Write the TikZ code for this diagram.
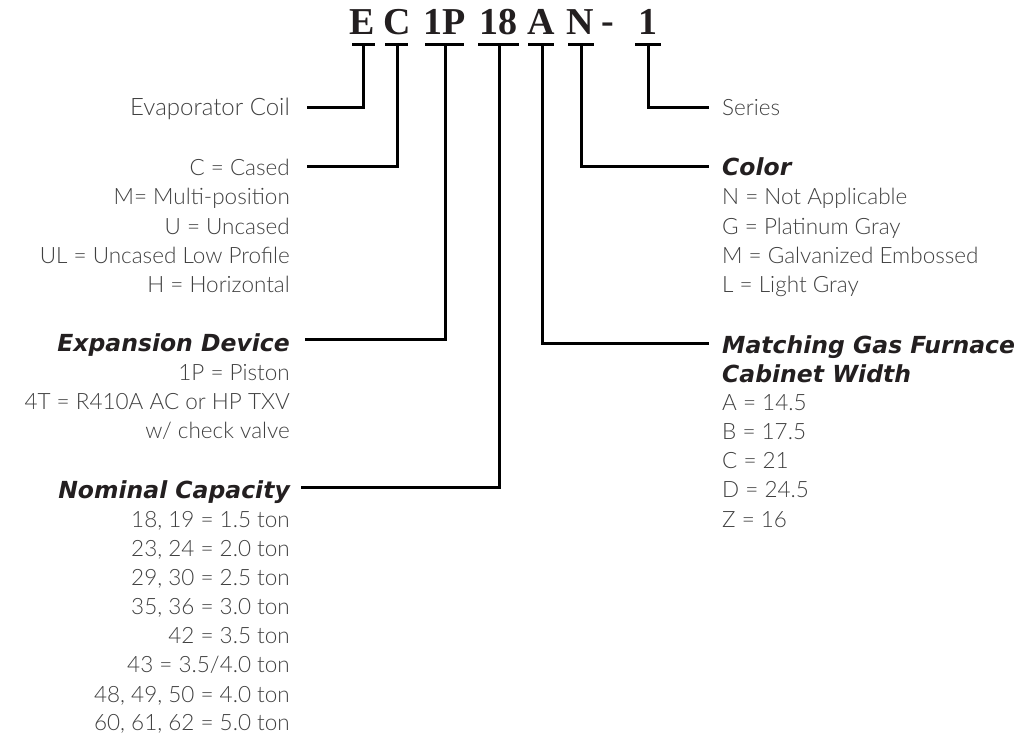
\documentclass[tikz,border=0pt]{standalone}
\usepackage{fontspec}
\setmainfont{Lato}[UprightFont=* Light]
\newfontfamily\codefont{Liberation Serif}
\newfontfamily\headfont{DejaVu Sans}
\definecolor{txt}{HTML}{404040}
\definecolor{hd}{HTML}{231F20}
\begin{document}
\begin{tikzpicture}[x=1pt,y=-1pt,
  conn/.style={line width=3pt,line cap=rect,black},
  bar/.style={line width=3pt,black},
  code/.style={anchor=base,inner sep=0pt,font=\codefont\bfseries\fontsize{38}{38}\selectfont,text=hd},
  lt/.style={anchor=base east,inner sep=0pt,text=txt,font=\fontsize{22.5}{22.5}\selectfont},
  rt/.style={anchor=base west,inner sep=0pt,text=txt,font=\fontsize{22.5}{22.5}\selectfont},
  lh/.style={anchor=base east,inner sep=0pt,text=hd,font=\headfont\bfseries\itshape\fontsize{23.5}{23.5}\selectfont},
  rh/.style={anchor=base west,inner sep=0pt,text=hd,font=\headfont\bfseries\itshape\fontsize{23.5}{23.5}\selectfont}]
\useasboundingbox (0,0) rectangle (1028,739);
% code letters
\node[code] (kE) at (362,34) {E};
\node[code] (kC) at (397,34) {C};
\node[code] (kP) at (445,34) {1P};
\node[code] (kN1) at (498,34) {18};
\node[code] (kA) at (541,34) {A};
\node[code] (kN) at (580,34) {N};
\node[code] (kD) at (608,33) {-};
\node[code] (kS) at (648,34) {1};
% bars
\coordinate (bE) at (363,44); \draw[bar] (352,44) -- (375,44);
\coordinate (bC) at (397,44); \draw[bar] (385,44) -- (408,44);
\coordinate (bP) at (445,44); \draw[bar] (425,44) -- (464,44);
\coordinate (b18) at (499,44); \draw[bar] (478,44) -- (519,44);
\coordinate (bA) at (542,44); \draw[bar] (528,44) -- (554,44);
\coordinate (bN) at (581,44); \draw[bar] (568,44) -- (594,44);
\coordinate (bS) at (648,44); \draw[bar] (635,44) -- (661,44);
% left labels
\node[lt,font=\fontsize{24}{24}\selectfont] (evap) at (290,115) {Evaporator Coil};
\node[lt] (c1) at (290,175) {C = Cased};
\node[lt] (c2) at (290,204) {M= Multi-position};
\node[lt] (c3) at (290,234) {U = Uncased};
\node[lt] (c4) at (290,263) {UL = Uncased Low Profile};
\node[lt] (c5) at (290,292) {H = Horizontal};
\node[lh] (exp) at (290,351) {Expansion Device};
\node[lt] (e1) at (290,380) {1P = Piston};
\node[lt] (e2) at (290,409) {4T = R410A AC or HP TXV};
\node[lt] (e3) at (290,438) {w/ check valve};
\node[lh] (nom) at (290,498) {Nominal Capacity};
\node[lt] (n1) at (290,527) {18, 19 = 1.5 ton};
\node[lt] (n2) at (290,556) {23, 24 = 2.0 ton};
\node[lt] (n3) at (290,585) {29, 30 = 2.5 ton};
\node[lt] (n4) at (290,614) {35, 36 = 3.0 ton};
\node[lt] (n5) at (290,643) {42 = 3.5 ton};
\node[lt] (n6) at (290,672) {43 = 3.5/4.0 ton};
\node[lt] (n7) at (290,702) {48, 49, 50 = 4.0 ton};
\node[lt] (n8) at (290,730) {60, 61, 62 = 5.0 ton};
% right labels
\node[rt] (ser) at (722,115) {Series};
\node[rh] (col) at (722,175) {Color};
\node[rt] (r1) at (722,204) {N = Not Applicable};
\node[rt] (r2) at (722,234) {G = Platinum Gray};
\node[rt] (r3) at (722,263) {M = Galvanized Embossed};
\node[rt] (r4) at (722,292) {L = Light Gray};
\node[rh] (mat) at (722,353) {Matching Gas Furnace};
\node[rh] (cab) at (722,382) {Cabinet Width};
\node[rt] (w1) at (722,410) {A = 14.5};
\node[rt] (w2) at (722,439) {B = 17.5};
\node[rt] (w3) at (722,468) {C = 21};
\node[rt] (w4) at (722,497) {D = 24.5};
\node[rt] (w5) at (722,527) {Z = 16};
% connectors
\draw[conn] (bE) |- ([xshift=18pt,yshift=8pt]evap.base east);
\draw[conn] (bC) |- ([xshift=18pt,yshift=9pt]c1.base east);
\draw[conn] (bP) |- ([xshift=16pt,yshift=12pt]exp.base east);
\draw[conn] (b18) |- ([xshift=12pt,yshift=11pt]nom.base east);
\draw[conn] (bS) |- ([xshift=-15pt,yshift=8pt]ser.base west);
\draw[conn] (bN) |- ([xshift=-15pt,yshift=9pt]col.base west);
\draw[conn] (bA) |- ([xshift=-15pt,yshift=10pt]mat.base west);
\end{tikzpicture}
\end{document}
